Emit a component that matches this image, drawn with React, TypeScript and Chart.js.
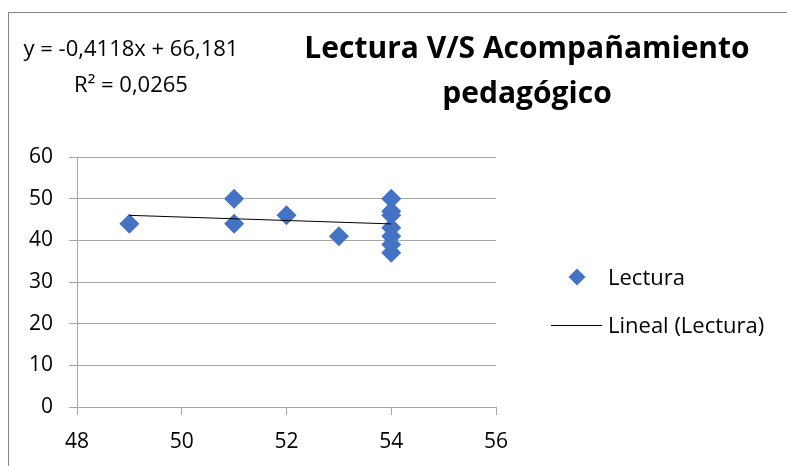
import React, { useEffect, useRef } from "react";
import { Chart, registerables } from "chart.js";

Chart.register(...registerables);

const acompanamiento = [49, 51, 51, 52, 53, 54, 54, 54, 54, 54, 54, 54];
const lectura = [44, 50, 44, 46, 41, 50, 47, 46, 43, 41, 39, 37];
const trendX = [49, 54];
const trendY = [46.0, 43.94];
const titleLines = ["Lectura V/S Acompañamiento", "pedagógico"];
const equationLines = ["y = -0,4118x + 66,181", "R² = 0,0265"];
const legendLabels = ["Lectura", "Lineal (Lectura)"];

const FONT = "'Open Sans', 'Noto Sans', sans-serif";
const BLUE = "#4472C4";
const GRID = "#a6a6a6";

export default function App() {
  const ref = useRef<HTMLCanvasElement | null>(null);

  useEffect(() => {
    if (!ref.current) return;
    const overlay = {
      id: "overlay",
      afterDraw(chart: any) {
        const ctx = chart.ctx as CanvasRenderingContext2D;
        ctx.save();
        ctx.fillStyle = "#000";
        // equation
        ctx.font = `22px ${FONT}`;
        ctx.textAlign = "center";
        ctx.textBaseline = "alphabetic";
        ctx.fillText(equationLines[0], 122, 43);
        ctx.fillText(equationLines[1], 122, 79);
        // title
        ctx.font = `bold 30px ${FONT}`;
        ctx.fillText(titleLines[0], 518, 45);
        ctx.fillText(titleLines[1], 518, 90);
        // legend
        ctx.textAlign = "left";
        ctx.font = `22px ${FONT}`;
        const cx = 568, cy = 264, r = 8.5;
        ctx.beginPath();
        ctx.moveTo(cx, cy - r);
        ctx.lineTo(cx + r, cy);
        ctx.lineTo(cx, cy + r);
        ctx.lineTo(cx - r, cy);
        ctx.closePath();
        ctx.fillStyle = BLUE;
        ctx.fill();
        ctx.fillStyle = "#000";
        ctx.fillText(legendLabels[0], 599, 272);
        ctx.strokeStyle = "#000";
        ctx.lineWidth = 1;
        ctx.beginPath();
        ctx.moveTo(542, 312.5);
        ctx.lineTo(593, 312.5);
        ctx.stroke();
        ctx.fillText(legendLabels[1], 599, 320);
        ctx.restore();
      },
    };

    const chart = new Chart(ref.current, {
      type: "scatter",
      data: {
        datasets: [
          {
            label: legendLabels[0],
            data: acompanamiento.map((x, i) => ({ x, y: lectura[i] })),
            pointStyle: "rectRot",
            pointRadius: 10,
            pointHoverRadius: 10,
            backgroundColor: BLUE,
            borderColor: BLUE,
            borderWidth: 0,
            order: 2,
          },
          {
            type: "line",
            label: legendLabels[1],
            data: trendX.map((x, i) => ({ x, y: trendY[i] })),
            borderColor: "#000",
            borderWidth: 1,
            pointRadius: 0,
            showLine: true,
            fill: false,
            order: 1,
          } as any,
        ],
      },
      options: {
        responsive: false,
        animation: false,
        devicePixelRatio: 1,
        layout: { padding: { left: 0, top: 144, right: 291, bottom: 0 } },
        plugins: {
          legend: { display: false },
          title: { display: false },
          tooltip: { enabled: false },
        },
        scales: {
          x: {
            type: "linear",
            min: 48,
            max: 56,
            ticks: { stepSize: 2, color: "#000", font: { family: FONT, size: 21 }, padding: 14 },
            grid: { display: true, drawOnChartArea: false, drawTicks: true, tickLength: 8, color: GRID },
            border: { display: true, color: GRID },
            afterFit(scale: any) {
              scale.height = 59;
            },
          },
          y: {
            min: 0,
            max: 60,
            ticks: { stepSize: 10, color: "#000", font: { family: FONT, size: 21 }, padding: 16 },
            grid: { display: true, drawOnChartArea: true, drawTicks: true, tickLength: 8, color: GRID },
            border: { display: true, color: GRID },
            afterFit(scale: any) {
              scale.width = 68;
            },
          },
        },
      },
      plugins: [overlay],
    });
    return () => chart.destroy();
  }, []);

  return (
    <div
      style={{
        position: "fixed",
        left: 8,
        top: 12,
        width: 778,
        height: 453,
        borderLeft: "1px solid #868686",
        borderTop: "1px solid #868686",
        background: "#fff",
        overflow: "hidden",
      }}
    >
      <canvas ref={ref} width={778} height={453} style={{ display: "block", width: 778, height: 453 }} />
    </div>
  );
}
